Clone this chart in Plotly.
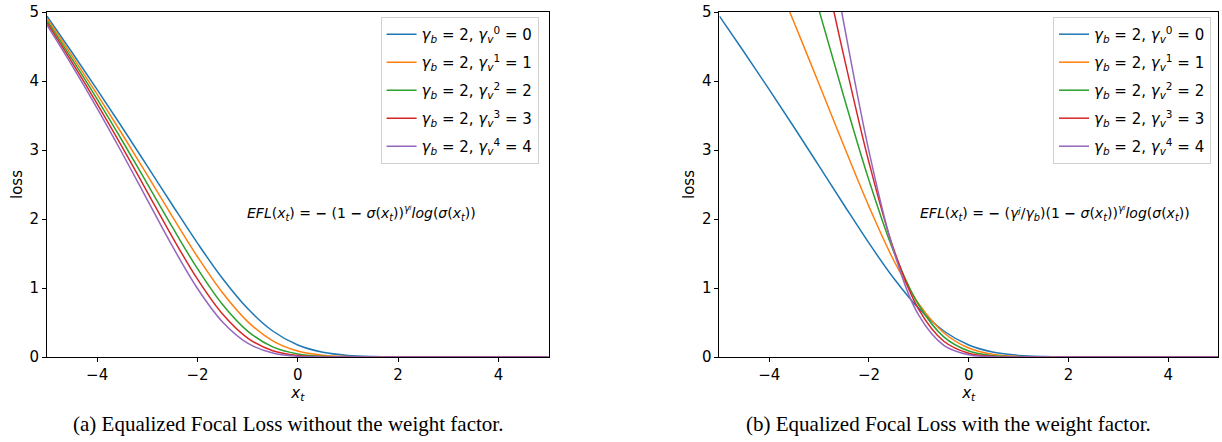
import plotly.graph_objects as go

# ---------------- data ----------------
x_vals = [-5, -4.5, -4, -3.5, -3, -2.5, -2, -1.5, -1, -0.5, 0, 0.5, 1, 1.5, 2, 3, 4, 5]

# (a) without weight factor
loss_a_v0 = [4.940, 4.413, 3.875, 3.326, 2.766, 2.203, 1.650, 1.137, 0.702, 0.377, 0.173, 0.068, 0.023, 0.007, 0.002, 0.0001, 0, 0]
loss_a_v1 = [4.907, 4.364, 3.805, 3.228, 2.635, 2.035, 1.453, 0.930, 0.513, 0.235, 0.087, 0.026, 0.006, 0.001, 0.0002, 0, 0, 0]
loss_a_v2 = [4.874, 4.316, 3.737, 3.134, 2.510, 1.881, 1.280, 0.760, 0.375, 0.146, 0.043, 0.010, 0.002, 0.0002, 0, 0, 0, 0]
loss_a_v3 = [4.841, 4.269, 3.670, 3.042, 2.391, 1.738, 1.128, 0.622, 0.274, 0.091, 0.022, 0.004, 0.0004, 0, 0, 0, 0, 0]
loss_a_v4 = [4.809, 4.222, 3.604, 2.953, 2.278, 1.606, 0.993, 0.508, 0.201, 0.057, 0.011, 0.001, 0.0001, 0, 0, 0, 0, 0]

# (b) with weight factor (curves leave the top of the frame)
x_b_v0 = x_vals
loss_b_v0 = loss_a_v0
x_b_v1 = [-3.6, -3.5, -3, -2.5, -2, -1.5, -1, -0.5, 0, 0.5, 1, 1.5, 2, 3, 4, 5]
loss_b_v1 = [5.018, 4.843, 3.953, 3.053, 2.180, 1.395, 0.770, 0.352, 0.130, 0.038, 0.009, 0.002, 0.0003, 0, 0, 0]
x_b_v2 = [-3, -2.5, -2, -1.5, -1, -0.5, 0, 0.5, 1, 1.5, 2, 3, 4, 5]
loss_b_v2 = [5.020, 3.762, 2.560, 1.520, 0.750, 0.292, 0.087, 0.019, 0.003, 0.0004, 0.0001, 0, 0, 0]
x_b_v3 = [-2.75, -2.5, -2, -1.5, -1, -0.5, 0, 0.5, 1, 1.5, 2, 3, 4, 5]
loss_b_v3 = [5.157, 4.346, 2.819, 1.554, 0.686, 0.228, 0.054, 0.009, 0.001, 0.0001, 0, 0, 0, 0]
x_b_v4 = [-2.6, -2.5, -2, -1.5, -1, -0.5, 0, 0.5, 1, 1.5, 2, 3, 4, 5]
loss_b_v4 = [5.215, 4.819, 2.980, 1.524, 0.602, 0.170, 0.033, 0.004, 0.0004, 0, 0, 0, 0, 0]

series_names = [
    "<i>γ</i><sub><i>b</i></sub> = 2, <i>γ</i><sub><i>v</i></sub><sup>0</sup> = 0",
    "<i>γ</i><sub><i>b</i></sub> = 2, <i>γ</i><sub><i>v</i></sub><sup>1</sup> = 1",
    "<i>γ</i><sub><i>b</i></sub> = 2, <i>γ</i><sub><i>v</i></sub><sup>2</sup> = 2",
    "<i>γ</i><sub><i>b</i></sub> = 2, <i>γ</i><sub><i>v</i></sub><sup>3</sup> = 3",
    "<i>γ</i><sub><i>b</i></sub> = 2, <i>γ</i><sub><i>v</i></sub><sup>4</sup> = 4",
]
colors = ["#1f77b4", "#ff7f0e", "#2ca02c", "#d62728", "#9467bd"]

captions = ["(a) Equalized Focal Loss without the weight factor.",
            "(b) Equalized Focal Loss with the weight factor."]
formula_a = ("<i>EFL</i>(<i>x</i><sub><i>t</i></sub>) = <b>−</b> (1 <b>−</b> <i>σ</i>(<i>x</i><sub><i>t</i></sub>))"
             "<sup><i>γʲ</i></sup><i>log</i>(<i>σ</i>(<i>x</i><sub><i>t</i></sub>))")
formula_b = ("<i>EFL</i>(<i>x</i><sub><i>t</i></sub>) = <b>−</b> (<i>γʲ</i>/<i>γ</i><sub><i>b</i></sub>)(1 <b>−</b> <i>σ</i>(<i>x</i><sub><i>t</i></sub>))"
             "<sup><i>γʲ</i></sup><i>log</i>(<i>σ</i>(<i>x</i><sub><i>t</i></sub>))")

# ---------------- figure ----------------
L, R, T, B = 47, 3, 8, 85
W, H = 1222, 442
pw = W - L - R
ph = H - T - B
dom_a = [0, (549 - L) / pw]
dom_b = [(720 - L) / pw, 1]

fig = go.Figure()
a_series = [loss_a_v0, loss_a_v1, loss_a_v2, loss_a_v3, loss_a_v4]
b_series = [(x_b_v0, loss_b_v0), (x_b_v1, loss_b_v1), (x_b_v2, loss_b_v2),
            (x_b_v3, loss_b_v3), (x_b_v4, loss_b_v4)]

for i, ys in enumerate(a_series):
    fig.add_trace(go.Scatter(x=x_vals, y=ys, mode="lines", name=series_names[i],
                             line=dict(color=colors[i], width=1.5, shape="spline", smoothing=1),
                             xaxis="x", yaxis="y", legend="legend", legendgroup=f"a{i}"))
for i, (xs, ys) in enumerate(b_series):
    fig.add_trace(go.Scatter(x=xs, y=ys, mode="lines", name=series_names[i],
                             line=dict(color=colors[i], width=1.5, shape="spline", smoothing=1),
                             xaxis="x2", yaxis="y2", legend="legend2", legendgroup=f"b{i}"))

tick_font = dict(family="DejaVu Sans", size=15, color="black")
axis_common = dict(showline=True, mirror=True, linecolor="black", linewidth=1,
                   ticks="outside", ticklen=4, tickcolor="black", showgrid=False,
                   zeroline=False, tickfont=tick_font, ticklabeloverflow="allow")
xt_title = dict(text="<i>x</i><sub><i>t</i></sub>", font=tick_font, standoff=0)
loss_title = dict(text="loss", font=tick_font, standoff=3)

legend_common = dict(font=dict(family="DejaVu Sans", size=15, color="black"),
                     bgcolor="rgba(255,255,255,0.8)", bordercolor="#d0d0d0", borderwidth=1,
                     yanchor="top", xanchor="right", y=1 - 5 / ph, tracegroupgap=5.5,
                     traceorder="grouped")

fig.update_layout(
    width=W, height=H, margin=dict(l=L, r=R, t=T, b=B),
    paper_bgcolor="white", plot_bgcolor="white",
    xaxis=dict(domain=dom_a, range=[-5, 5], tickvals=[-4, -2, 0, 2, 4],
               ticktext=["−4", "−2", "0", "2", "4"], title=xt_title, anchor="y", **axis_common),
    yaxis=dict(domain=[0, 1], range=[0, 5], tickvals=[0, 1, 2, 3, 4, 5], title=loss_title,
               anchor="x", **axis_common),
    xaxis2=dict(domain=dom_b, range=[-5, 5], tickvals=[-4, -2, 0, 2, 4],
                ticktext=["−4", "−2", "0", "2", "4"], title=xt_title, anchor="y2", **axis_common),
    yaxis2=dict(domain=[0, 1], range=[0, 5], tickvals=[0, 1, 2, 3, 4, 5], title=loss_title,
                anchor="x2", **axis_common),
    legend=dict(x=(539 - L) / pw, **legend_common),
    legend2=dict(x=(1212 - L) / pw, **legend_common),
    showlegend=True,
)

fig.add_annotation(text=formula_a, xref="x", yref="y", x=1.27, y=2.08, showarrow=False,
                   xanchor="center", yanchor="middle",
                   font=dict(family="DejaVu Sans", size=14, color="black"))
fig.add_annotation(text=formula_b, xref="x2", yref="y2", x=1.74, y=2.08, showarrow=False,
                   xanchor="center", yanchor="middle",
                   font=dict(family="DejaVu Sans", size=14, color="black"))

for i, cap in enumerate(captions):
    cx = ((288.5 if i == 0 else 949) - L) / pw
    fig.add_annotation(text=cap, xref="paper", yref="paper", x=cx, y=(357 - 425) / ph,
                       xanchor="center", yanchor="middle", showarrow=False,
                       font=dict(family="Liberation Serif", size=21, color="black"))

fig.write_html("out.html", config={"displayModeBar": False},
               post_script="document.body.style.margin='0';")
